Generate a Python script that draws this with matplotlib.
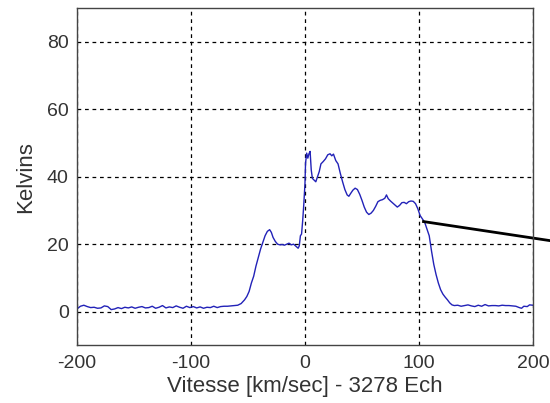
import matplotlib
matplotlib.use("Agg")
import matplotlib.pyplot as plt

# ==========================
# DONNEES
# ==========================
vitesse = [
    -200, -197, -194, -191, -188, -185, -182, -179, -176, -173, -170, -167,
    -164, -161, -158, -155, -152, -149, -146, -143, -140, -137, -134, -131,
    -128, -125, -122, -119, -116, -113, -110, -107, -104, -101, -98, -95,
    -92, -89, -86, -83, -80, -77, -74, -71, -68, -65, -62, -59, -56, -53,
    -51, -49, -47, -45, -43, -41, -39, -37, -35, -33, -31, -29.5, -28, -26,
    -24, -22, -20, -18, -16, -14, -12, -10, -8, -6, -5, -4, -3, -2, -1, 0,
    0.5, 1.5, 2.5, 3.5, 4.5, 5.5, 6.5, 8, 9.5, 11, 12.5, 14, 16, 18, 20, 22,
    23.5, 25, 27, 29, 31, 33, 35, 37, 38.5, 40, 42, 44, 46, 48, 50, 52, 54,
    56, 58, 60, 62, 64, 66, 68, 70, 71.5, 73, 75, 77, 79, 81, 83, 85, 87, 89,
    91, 93, 95, 97, 99, 101, 103, 105, 107, 109, 111, 113, 115, 117, 119,
    121, 123, 125, 127, 129, 131, 134, 137, 140, 143, 146, 149, 152, 155,
    158, 161, 164, 167, 170, 173, 176, 179, 182, 185, 188, 190, 192, 195,
    197, 200,
]
kelvins = [
    0.8, 1.6, 1.9, 1.5, 1.2, 1.3, 1.0, 1.1, 1.7, 1.5, 0.6, 0.8,
    1.2, 0.9, 1.3, 1.1, 1.4, 1.0, 1.3, 1.5, 1.1, 1.2, 1.6, 1.0,
    1.3, 1.8, 1.1, 1.4, 1.2, 1.7, 1.3, 1.0, 1.6, 1.2, 1.5, 1.1,
    1.4, 1.0, 1.3, 1.2, 1.6, 1.2, 1.5, 1.6, 1.6, 1.7, 1.8, 1.9, 2.4, 3.5,
    4.5, 6.0, 8.5, 10.5, 13.5, 16.0, 18.5, 20.5, 22.5, 23.8, 24.3, 23.5, 22.0, 20.8,
    20.0, 19.8, 19.9, 19.7, 20.0, 20.3, 19.8, 20.0, 19.4, 18.8, 19.5, 22.5, 23.0, 27.0, 32.0, 38.0,
    44.0, 47.0, 45.5, 46.8, 47.5, 42.0, 39.5, 39.0, 38.5, 40.0, 41.5, 43.8, 44.5, 45.3, 46.5, 46.8,
    46.2, 46.7, 44.8, 43.8, 41.0, 38.5, 36.2, 34.6, 34.2, 35.0, 36.0, 36.6, 36.2, 34.8, 33.0, 31.0, 29.5,
    28.8, 29.2, 30.0, 31.2, 32.6, 33.0, 33.2, 33.6, 34.6, 33.5, 32.8, 32.2, 31.6, 31.0, 31.5, 32.3, 32.4, 32.0,
    32.6, 32.8, 32.7, 32.0, 30.5, 28.5, 27.5, 26.5, 24.5, 22.5, 18.0, 14.0, 11.0, 8.5, 6.5,
    5.2, 4.3, 3.5, 2.6, 2.0, 1.8, 1.9, 1.6, 1.8, 2.0, 1.7, 1.5, 1.9, 1.6,
    2.1, 1.7, 1.8, 1.8, 1.7, 1.9, 1.8, 1.8, 1.7, 1.6, 1.2, 1.0, 1.6, 1.5,
    2.0, 1.9,
]

# trait noir (pointeur) qui sort du cadre a droite
pointeur_x = [104, 216]
pointeur_y = [26.7, 21.0]

x_ticks = [-200, -100, 0, 100, 200]
y_ticks = [0, 20, 40, 60, 80]

# ==========================
# GRAPHIQUE
# ==========================
plt.rcParams["font.family"] = ["Liberation Sans", "DejaVu Sans"]
plt.rcParams["axes.unicode_minus"] = False

fig = plt.figure(figsize=(5.5, 4.03), dpi=100)
ax = fig.add_axes([0.14, 0.143, 0.829, 0.837])

ax.plot(vitesse, kelvins, color="#2222b8", linewidth=1.0)
ax.plot(pointeur_x, pointeur_y, color="black", linewidth=2.0, clip_on=False)

ax.set_xlim(-200, 200)
ax.set_ylim(-10, 90)
ax.set_xticks(x_ticks)
ax.set_yticks(y_ticks)
ax.grid(True, color="black", linestyle=(0, (3, 3)), linewidth=0.9)

ax.tick_params(direction="in", length=0, labelsize=14, colors="#333333")
ax.tick_params(axis="x", pad=7)
ax.tick_params(axis="y", pad=6)
for sp in ax.spines.values():
    sp.set_color("#444444")
    sp.set_linewidth(1.0)

ax.set_xlabel("Vitesse [km/sec] - 3278 Ech", fontsize=16, color="#333333", labelpad=3)
ax.set_ylabel("Kelvins", fontsize=16, color="#333333", labelpad=8)

fig.savefig("out.png", dpi=100)
